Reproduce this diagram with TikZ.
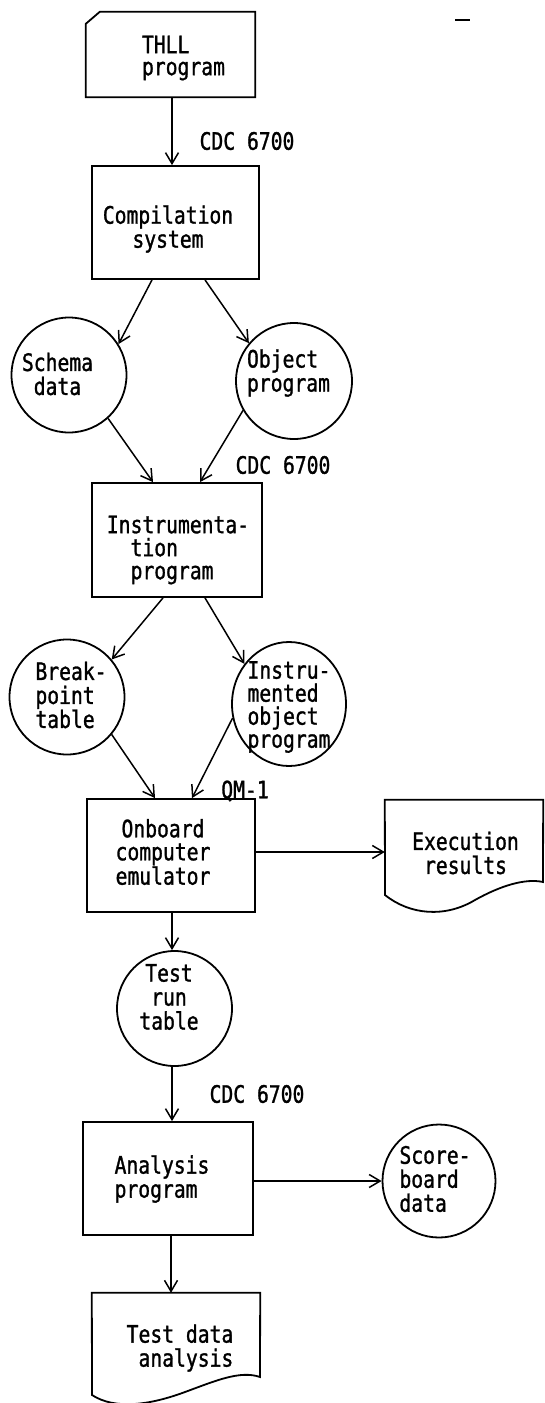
\documentclass[tikz,border=0pt]{standalone}
\usepackage{fontspec}
\newfontfamily\tw{DejaVu Sans Mono}[FakeStretch=0.82,FakeBold=1.2]
\usetikzlibrary{arrows.meta,shapes.geometric}
\begin{document}
\begin{tikzpicture}[x=1pt,y=-1pt,
  boxsh/.style={draw, line width=1.8pt, inner sep=0pt},
  circ/.style={draw, circle, line width=1.8pt, inner sep=0pt, minimum size=115pt},
  txt/.style={font=\tw\fontsize{24pt}{24pt}\selectfont, inner sep=0pt, align=center},
  lbl/.style={font=\tw\fontsize{24pt}{24pt}\selectfont, inner sep=0pt},
  arr/.style={line width=1.5pt, -{Straight Barb[length=11pt,width=13pt]}}]
\useasboundingbox (0,0) rectangle (545,1403);
\fill[white] (0,0) rectangle (545,1403);

% shapes
\node[draw=none, inner sep=0pt, minimum width=169pt, minimum height=85pt] (thll) at (170.5,54.5) {};
\draw[line width=1.8pt] (thll.south west) -- ([yshift=-12pt]thll.north west) -- ([xshift=14pt]thll.north west) -- (thll.north east) -- (thll.south east) -- cycle;
\node[boxsh, minimum width=167pt, minimum height=113pt] (comp) at (175.5,222.5) {};
\node[circ] (schema) at (69,375) {};
\node[circ, minimum size=116pt] (obj) at (294,381) {};
\node[boxsh, minimum width=170pt, minimum height=114pt] (inst) at (177,540) {};
\node[circ] (bp) at (67,697) {};
\node[draw, ellipse, line width=1.8pt, inner sep=0pt, minimum width=114pt, minimum height=124pt] (instr) at (289,704) {};
\node[boxsh, minimum width=168pt, minimum height=113pt] (onb) at (171,855.5) {};
\node[draw=none, inner sep=0pt, minimum width=158pt, minimum height=104pt] (exec) at (464,852) {};
\draw[line width=1.8pt] (exec.north west) -- (exec.north east) -- (543,882) .. controls (525,878) and (500,886) .. (475,900) .. controls (445,918) and (410,915) .. (385,895) -- cycle;
\node[circ] (trt) at (174.5,1008.5) {};
\node[boxsh, minimum width=170pt, minimum height=113pt] (ana) at (168,1178.5) {};
\node[circ, minimum size=113pt] (score) at (439,1181) {};
\node[draw=none, inner sep=0pt, minimum width=168pt, minimum height=102pt] (tda) at (176,1344) {};
\draw[line width=1.8pt] (tda.north west) -- (tda.north east) -- (260,1377) .. controls (240,1370) and (215,1381) .. (185,1392) .. controls (150,1405) and (115,1410) .. (92,1395) -- cycle;

% texts
\node[txt, align=left, font=\tw\fontsize{24pt}{22pt}\selectfont] (thll-t) at (183.5,58) {THLL\\program};
\node[txt] (comp-t) at (168,229) {Compilation\\system};
\node[txt] (schema-t) at (57.5,374) {Schema\\data};
\node[txt, align=left] (obj-t) at (288.5,373) {Object\\program};
\node[txt, align=left, font=\tw\fontsize{24pt}{23pt}\selectfont] (inst-t) at (178,550) {Instrumenta-\\\phantom{In}tion\\\phantom{In}program};
\node[txt, align=left] (bp-t) at (71,695) {Break-\\point\\table};
\node[txt, align=left, font=\tw\fontsize{24pt}{23pt}\selectfont] (instr-t) at (289,707) {Instru-\\mented\\object\\program};
\node[txt, font=\tw\fontsize{24pt}{23pt}\selectfont] (onb-t) at (163,852) {Onboard\\computer\\emulator};
\node[txt] (exec-t) at (465.5,853) {Execution\\results};
\node[txt] (trt-t) at (169,997) {Test\\run\\table};
\node[txt, align=left] (ana-t) at (162,1179) {Analysis\\program};
\node[txt, align=left] (score-t) at (435,1179) {Score-\\board\\data};
\node[txt, align=left] (tda-t) at (180,1348) {Test data\\\phantom{T}analysis};

% labels
\node[lbl] (l1) at (247,141) {CDC 6700};
\node[lbl] (l2) at (283,465) {CDC 6700};
\node[lbl] (l3) at (245,791) {QM-1};
\node[lbl] (l4) at (257,1094) {CDC 6700};
\draw[line width=1.5pt] (455,20) -- (470,20);

% connectors
\draw[arr] ([xshift=1.5pt]thll.south) -- ([xshift=1.5pt]thll.south |- comp.north);
\draw[arr] ([xshift=-23.5pt]comp.south) -- (schema.32);
\draw[arr] ([xshift=29.5pt]comp.south) -- (obj.140);
\draw[arr] (schema.-48) -- ([xshift=-24pt]inst.north);
\draw[arr] (obj.-150) -- ([xshift=23pt]inst.north);
\draw[arr] ([xshift=-14pt]inst.south) -- (bp.40);
\draw[arr] ([xshift=28pt]inst.south) -- (instr.138);
\draw[arr] (bp.-40) -- ([xshift=-16pt]onb.north);
\draw[arr] (instr.-166) -- ([xshift=21pt]onb.north);
\draw[arr] (onb.east |- exec.west) -- (exec.west);
\draw[arr] ([xshift=1pt]onb.south) -- ([xshift=1pt]onb.south |- trt.north);
\draw[arr] ([xshift=-2.5pt]trt.south) -- ([xshift=-2.5pt]trt.south |- ana.north);
\draw[arr] (ana.east |- score.west) -- (score.west);
\draw[arr] ([xshift=3pt]ana.south) -- ([xshift=3pt]ana.south |- tda.north);
\end{tikzpicture}
\end{document}
